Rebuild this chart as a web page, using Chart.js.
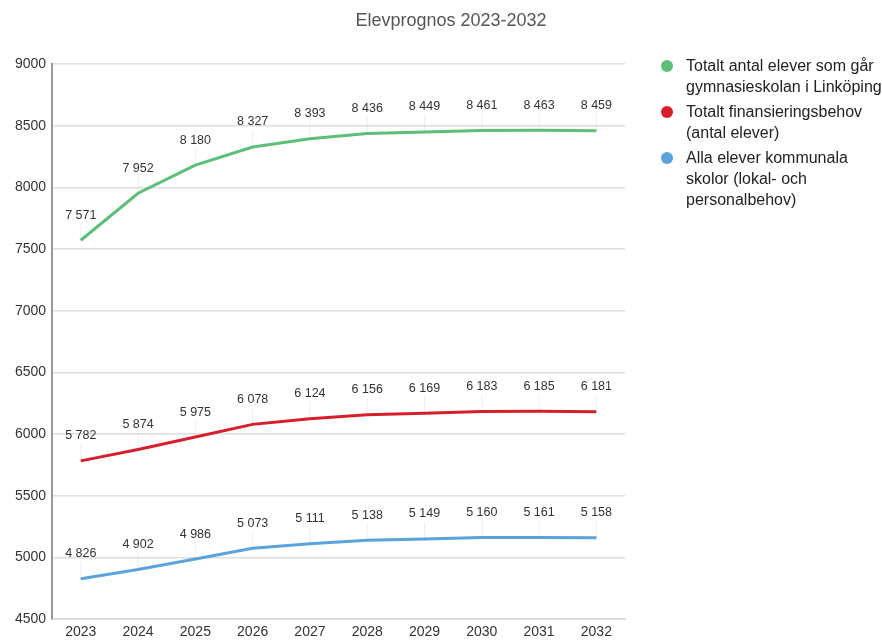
<!DOCTYPE html>
<html>
<head>
<meta charset="utf-8">
<script src="https://cdn.jsdelivr.net/npm/chart.js@4.4.1/dist/chart.umd.min.js"></script>
<style>
  body { margin: 0; background: #fff; font-family: "Liberation Sans", Arial, sans-serif; }
  #wrap { position: relative; width: 882px; height: 640px; }
  #chart { position: absolute; left: 0; top: 0; }
  #title { position: absolute; top: 10px; left: 301px; width: 300px; text-align: center; font-size: 18px; color: #555; }
  #legend { position: absolute; left: 660px; top: 55px; width: 222px; font-size: 16px; color: #222; }
  .item { position: relative; padding-left: 26px; line-height: 21px; margin-bottom: 4px; white-space: nowrap; }
  .dot { position: absolute; left: 1px; top: 5px; width: 12px; height: 12px; border-radius: 50%; }
</style>
</head>
<body>
<div id="wrap">
  <canvas id="chart" width="882" height="640"></canvas>
  <div id="title">Elevprognos 2023-2032</div>
  <div id="legend"></div>
</div>
<script>
// --- Data ---
const years = ['2023', '2024', '2025', '2026', '2027', '2028', '2029', '2030', '2031', '2032'];
const totalElever = [7571, 7952, 8180, 8327, 8393, 8436, 8449, 8461, 8463, 8459];
const finansiering = [5782, 5874, 5975, 6078, 6124, 6156, 6169, 6183, 6185, 6181];
const kommunala = [4826, 4902, 4986, 5073, 5111, 5138, 5149, 5160, 5161, 5158];
// legend lines, broken where the original wraps them
const seriesNames = [
    ['Totalt antal elever som går', 'gymnasieskolan i Linköping'],
    ['Totalt finansieringsbehov', '(antal elever)'],
    ['Alla elever kommunala', 'skolor (lokal- och', 'personalbehov)']
];
const seriesColors = ['#5cbf78', '#d71f2b', '#5ba3dd'];

// thousands separator with a space, e.g. 7 571
function fmt(v) {
    return String(v).replace(/\B(?=(\d{3})+(?!\d))/g, ' ');
}

// draws the value label above every point, with a faint stem down to it
const pointLabels = {
    id: 'pointLabels',
    afterDatasetsDraw(chart) {
        const ctx = chart.ctx;
        ctx.save();
        chart.data.datasets.forEach((ds, i) => {
            const meta = chart.getDatasetMeta(i);
            meta.data.forEach((pt, j) => {
                ctx.strokeStyle = 'rgba(0,0,0,0.07)';
                ctx.lineWidth = 1;
                ctx.beginPath();
                ctx.moveTo(pt.x, pt.y - 17);
                ctx.lineTo(pt.x, pt.y);
                ctx.stroke();
                ctx.fillStyle = '#333';
                ctx.font = '12.5px "Liberation Sans", Arial, sans-serif';
                ctx.textAlign = 'center';
                ctx.textBaseline = 'middle';
                ctx.fillText(fmt(ds.data[j]), pt.x, pt.y - 25);
            });
        });
        ctx.restore();
    }
};

const datasets = [totalElever, finansiering, kommunala].map((d, i) => ({
    label: seriesNames[i].join(' '),
    data: d,
    borderColor: seriesColors[i],
    backgroundColor: seriesColors[i],
    borderWidth: 3,
    pointRadius: 0,
    tension: 0,
    fill: false
}));

const tickFont = { size: 14, family: '"Liberation Sans", Arial, sans-serif' };

new Chart(document.getElementById('chart'), {
    type: 'line',
    data: { labels: years, datasets: datasets },
    options: {
        responsive: false,
        animation: false,
        layout: { padding: { left: 9, right: 257, top: 64, bottom: -5 } },
        plugins: {
            legend: { display: false },
            title: { display: false },
            tooltip: { enabled: false }
        },
        scales: {
            x: {
                offset: true,
                grid: { display: false, drawTicks: false },
                border: { color: '#ddd', width: 2 },
                ticks: { color: '#333', font: { ...tickFont, lineHeight: 1 }, padding: 6 }
            },
            y: {
                min: 4500,
                max: 9000,
                ticks: { stepSize: 500, color: '#333', font: tickFont, padding: 6, callback: v => String(v) },
                grid: { color: '#dedede', lineWidth: 1.5, drawTicks: false },
                border: { color: '#999', width: 2 }
            }
        }
    },
    plugins: [pointLabels]
});

// --- Legend (HTML) ---
const legendEl = document.getElementById('legend');
seriesNames.forEach((lines, i) => {
    const item = document.createElement('div');
    item.className = 'item';
    item.innerHTML = '<span class="dot" style="background:' + seriesColors[i] + '"></span>' + lines.join('<br>');
    legendEl.appendChild(item);
});
</script>
</body>
</html>
